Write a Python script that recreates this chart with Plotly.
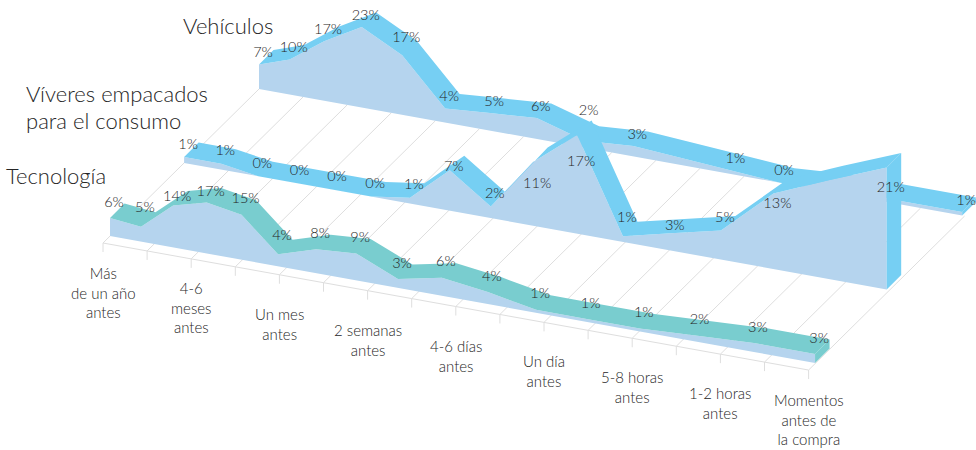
import numpy as np
import plotly.graph_objects as go

# ---- data -------------------------------------------------------------
VEHICULOS = [7, 10, 17, 23, 17, 4, 5, 6, 2, 3, 2, 1, 0, 1, 1, 1, 1]
VIVERES = [1, 1, 0, 0, 0, 0, 1, 7, 2, 11, 17, 1, 3, 5, 13, 17, 21]
TECNOLOGIA = [6, 5, 14, 17, 15, 4, 8, 9, 3, 6, 4, 1, 1, 1, 2, 3, 3]
# positions whose value label is not printed in the source
VEH_UNLABELLED = [10, 13, 14, 15]
VIV_UNLABELLED = [15]
CATEGORY_LABELS = ["Más<br>de un año<br>antes", "4-6<br>meses<br>antes", "Un mes<br>antes",
                   "2 semanas<br>antes", "4-6 días<br>antes", "Un día<br>antes",
                   "5-8 horas<br>antes", "1-2 horas<br>antes", "Momentos<br>antes de<br>la compra"]

# ---- pseudo-3D projection ----------------------------------------------
ORIGIN = (103.0, 243.0)
STEP = (44.1, 7.94)
DEPTH = (156.0, -154.0)
RIBBON = (14.5, -14.5)
N_POS = 17


def project(t, depth, h=0.0):
    t = np.asarray(t, dtype=float)
    return (ORIGIN[0] + STEP[0] * t + DEPTH[0] * depth,
            ORIGIN[1] + STEP[1] * t + DEPTH[1] * depth - np.asarray(h, dtype=float))


def warp(coef):
    i = np.arange(N_POS, dtype=float)
    return coef[0] * i + coef[1] * i ** 2 + coef[2] * i ** 3


SERIES = [
    dict(values=VEHICULOS, depth=1.0, k=3.5, warp=(0.651, 0.0464, -0.00155), ribbon="#76CFF3",
         hide=VEH_UNLABELLED, dy=-11, shift={4: -17, 8: -29, 2: -11}),
    dict(values=VIVERES, depth=0.52, k=5.8, warp=(0.8447, -0.00333, 0.000798), ribbon="#76CFF3",
         hide=VIV_UNLABELLED, dy=-12,
         shift={7: -3, 9: 22, 10: 27, 11: -18, 12: -7, 14: 11, 16: 21}),
    dict(values=TECNOLOGIA, depth=0.045, k=3.0, warp=(0.689, 0.01243, 0.000435), ribbon="#79CDCF",
         hide=[], dy=-15, shift={1: -18, 2: -8, 3: -10, 5: -18}),
]

FILL = "#B5D4EE"
GRID = "#DEDEDE"
INK = "#262626"
FONT = "Lato"
LIGHT = 300

fig = go.Figure()


def poly(x, y, color):
    fig.add_trace(go.Scatter(x=list(x), y=list(y), mode="lines", fill="toself", fillcolor=color,
                             line=dict(width=0, color=color), hoverinfo="skip", showlegend=False))


def segs(xs, ys, color, width=1):
    x, y = [], []
    for a, b, c, d in zip(*xs, *ys):
        x += [a, b, None]
        y += [c, d, None]
    fig.add_trace(go.Scatter(x=x, y=y, mode="lines", line=dict(width=width, color=color),
                             hoverinfo="skip", showlegend=False))


# floor
ticks = np.arange(N_POS)
fx, fy = project(ticks, 0.0)
bx, by = project(ticks, 1.0)
segs((fx, bx), (fy, by), GRID)
segs((fx, fx), (fy, fy + 9), GRID)
segs((fx[:-1], fx[1:]), (fy[:-1], fy[1:]), GRID)

# series, back to front
for s in SERIES:
    v = np.array(s["values"], dtype=float)
    t = warp(s["warp"])
    h = v * s["k"]
    x0, y0 = project(t, s["depth"])
    xt, yt = project(t, s["depth"], h)
    xb, yb = xt + RIBBON[0], yt + RIBBON[1]
    # front wall down to the floor
    poly(np.r_[xt, x0[::-1]], np.r_[yt, y0[::-1]], FILL)
    # top ribbon
    poly(np.r_[xt, xb[::-1]], np.r_[yt, yb[::-1]], s["ribbon"])
    # end cap
    poly([xt[-1], xb[-1], x0[-1] + RIBBON[0], x0[-1]],
         [yt[-1], yb[-1], y0[-1] + RIBBON[1], y0[-1]], s["ribbon"])

# value labels on top of everything
for s in SERIES:
    v = np.array(s["values"], dtype=float)
    t = warp(s["warp"])
    xt, yt = project(t, s["depth"], v * s["k"])
    keep = [i for i in range(N_POS) if i not in s["hide"]]
    lx = [xt[i] + 4 for i in keep]
    ly = [yt[i] + s["shift"].get(i, s["dy"]) for i in keep]
    fig.add_trace(go.Scatter(x=lx, y=ly, mode="text", text=[f"{int(v[i])}%" for i in keep],
                             textposition="middle center",
                             textfont=dict(family=FONT, size=14.5, color=INK, weight=LIGHT),
                             hoverinfo="skip", showlegend=False))

# category labels, every second tick
for lab, tk in zip(CATEGORY_LABELS, ticks[::2]):
    ax, ay = project(tk, 0.0)
    fig.add_annotation(x=float(ax), y=float(ay) + 49, text=lab, showarrow=False, xanchor="center",
                       yanchor="middle", align="center",
                       font=dict(family=FONT, size=15, color=INK, weight=LIGHT))

# series titles
for title, tx, ty in [("Vehículos", 183, 25), ("Víveres empacados", 26, 93.5),
                      ("para el consumo", 26, 120.5), ("Tecnología", 6, 175)]:
    fig.add_annotation(x=tx, y=ty, text=title, showarrow=False, xanchor="left", yanchor="middle",
                       align="left", xshift=-2, font=dict(family=FONT, size=22, color=INK, weight=LIGHT))

fig.update_layout(width=976, height=450, margin=dict(l=0, r=0, t=0, b=0),
                  paper_bgcolor="white", plot_bgcolor="white", showlegend=False,
                  xaxis=dict(range=[0, 976], visible=False, fixedrange=True),
                  yaxis=dict(range=[450, 0], visible=False, fixedrange=True))
fig.write_html("out.html", config=dict(displayModeBar=False),
               post_script="document.body.style.margin='0';")
